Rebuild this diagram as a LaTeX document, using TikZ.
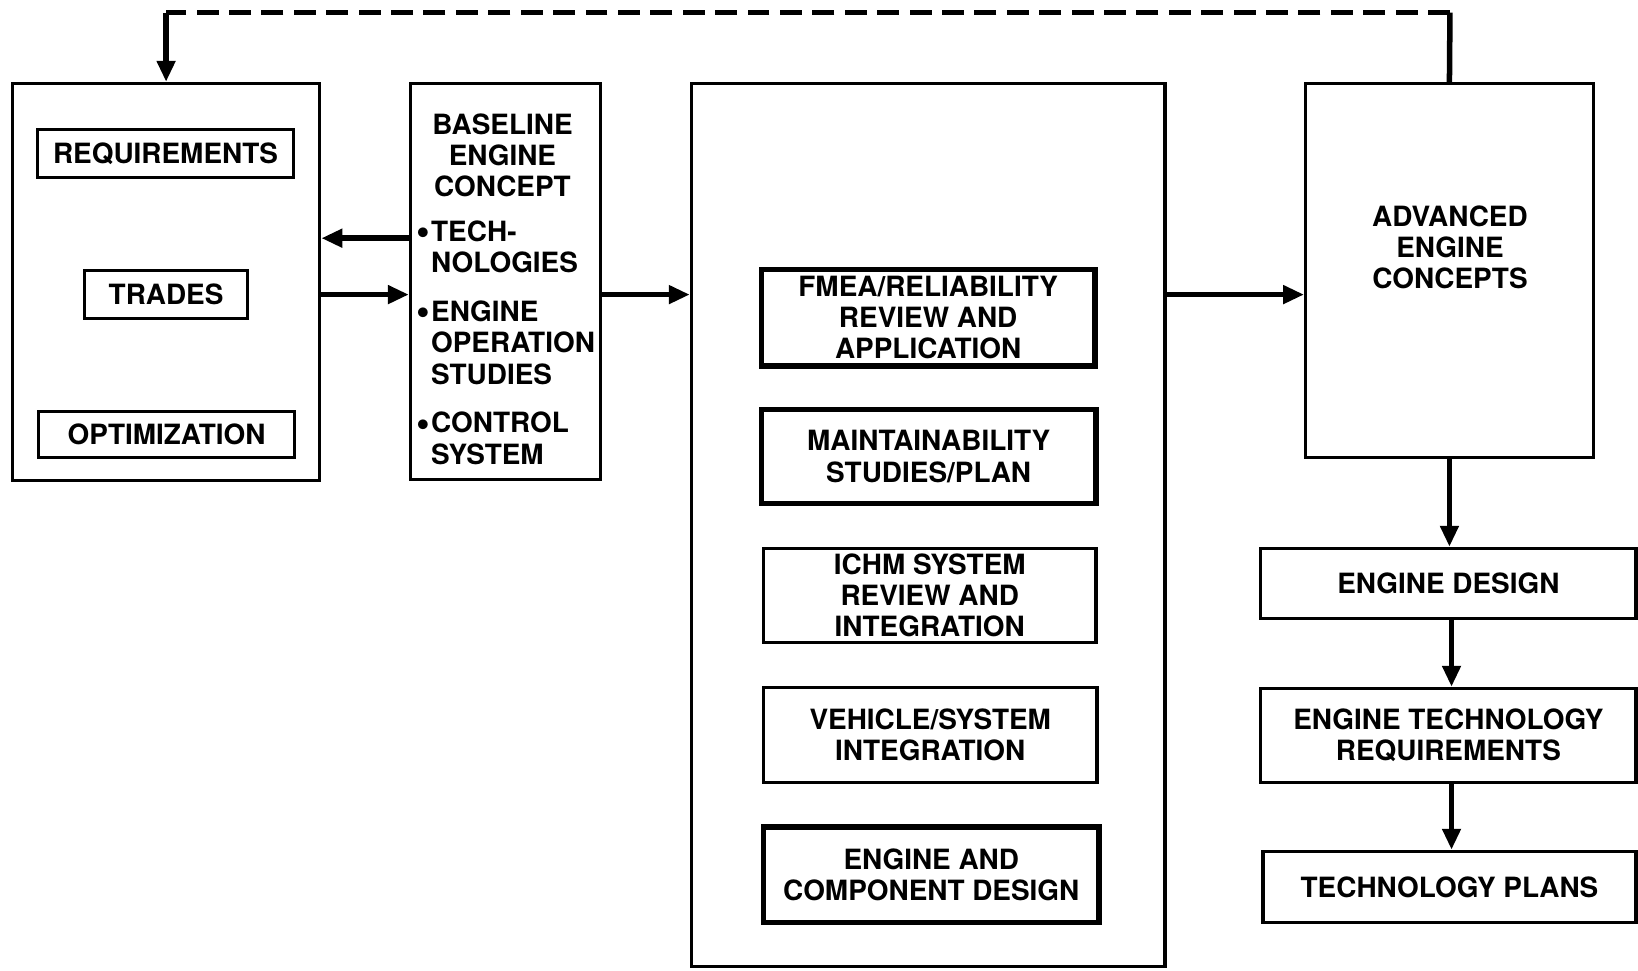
\documentclass[tikz,border=0pt]{standalone}
\usepackage{fontspec}
\setmainfont{TeX Gyre Heros}
\usetikzlibrary{arrows.meta}

\begin{document}
\begin{tikzpicture}[x=0.01cm, y=-0.01cm,
    every node/.style={font=\fontsize{7.6}{8.5}\selectfont\bfseries},
    box/.style={draw, rectangle, line width=0.9pt, inner sep=0pt, align=center},
    thickbox/.style={box, line width=1.6pt},
    arr/.style={line width=1.5pt, -{Triangle[length=0.2cm, width=0.17cm]}}]
    \useasboundingbox (0,0) rectangle (1568,929.5);

    % 需求与权衡
    \node[box, minimum width=2.94cm, minimum height=3.8cm] (sys) at (159,270) {};
    \node[box, minimum width=2.45cm, minimum height=0.46cm] (req) at (158.5,147) {REQUIREMENTS};
    \node[box, minimum width=1.56cm, minimum height=0.46cm] (trades) at (159,282) {TRADES};
    \node[box, minimum width=2.45cm, minimum height=0.44cm] (opt) at (159.5,416) {OPTIMIZATION};

    % 基线发动机
    \node[box, minimum width=1.82cm, minimum height=3.79cm] (base) at (484,269.5) {};
    \node (basetitle) at (481,148.5) [align=center] {BASELINE\\ENGINE\\CONCEPT};
    \node (baselist) at (398,328) [anchor=west, inner sep=0pt, align=left]
        {\makebox[0.14cm][l]{\raisebox{-0.9pt}{\scalebox{1.4}{\textbullet}}}TECH-\\\hspace{0.14cm}NOLOGIES\\[4.8pt]
         \makebox[0.14cm][l]{\raisebox{-0.9pt}{\scalebox{1.4}{\textbullet}}}ENGINE\\\hspace{0.14cm}OPERATION\\\hspace{0.14cm}STUDIES\\[4.8pt]
         \makebox[0.14cm][l]{\raisebox{-0.9pt}{\scalebox{1.4}{\textbullet}}}CONTROL\\\hspace{0.14cm}SYSTEM};

    % 分析任务
    \node[box, minimum width=4.53cm, minimum height=8.45cm] (ana) at (888.5,502.5) {};
    \node[thickbox, minimum width=3.19cm, minimum height=0.92cm] (fmea) at (888.5,304) {FMEA/RELIABILITY\\REVIEW AND\\APPLICATION};
    \node[thickbox, minimum width=3.2cm, minimum height=0.9cm] (maint) at (889,437) {MAINTAINABILITY\\STUDIES/PLAN};
    \node[box, minimum width=3.18cm, minimum height=0.9cm] (ichm) at (890,570) {ICHM SYSTEM\\REVIEW AND\\INTEGRATION};
    \node[box, minimum width=3.19cm, minimum height=0.91cm] (veh) at (890.5,703.5) {VEHICLE/SYSTEM\\INTEGRATION};
    \node[thickbox, minimum width=3.21cm, minimum height=0.91cm] (ecd) at (891.5,837.5) {ENGINE AND\\COMPONENT DESIGN};

    % 先进发动机
    \node[box, minimum width=2.75cm, minimum height=3.58cm] (adv) at (1387.5,259) {};
    \node (advtext) at (1388,237) [align=center] {ADVANCED\\ENGINE\\CONCEPTS};
    \node[box, minimum width=3.59cm, minimum height=0.67cm] (edes) at (1386.5,558.5) {ENGINE DESIGN};
    \node[box, minimum width=3.59cm, minimum height=0.9cm] (etr) at (1386.5,704) {ENGINE TECHNOLOGY\\REQUIREMENTS};
    \node[box, minimum width=3.57cm, minimum height=0.68cm] (tplan) at (1387.5,849) {TECHNOLOGY PLANS};

    % 连线
    \coordinate (back) at (393,228);
    \draw[arr] (back) -- (sys.east |- back);
    \draw[arr] (sys.east |- trades) -- (base.west |- trades);
    \draw[arr] (base.east |- trades) -- (ana.west |- trades);
    \draw[arr] (ana.east |- trades) -- (adv.west |- trades);
    \draw[arr] (adv.south) -- (adv.south |- edes.north);
    \draw[arr] ([xshift=0.03cm]edes.south) -- ([xshift=0.03cm]etr.north);
    \draw[arr] ([xshift=0.03cm]etr.south) -- ([xshift=0.03cm]etr.south |- tplan.north);

    % 反馈
    \coordinate (fbR) at (1388,12);
    \coordinate (fbL) at (159,12);
    \draw[line width=1.5pt] (adv.north) -- (fbR);
    \draw[line width=1.5pt, dash pattern=on 0.21cm off 0.1cm] (fbR) -- (fbL);
    \draw[arr] (fbL) -- (sys.north);
\end{tikzpicture}
\end{document}
